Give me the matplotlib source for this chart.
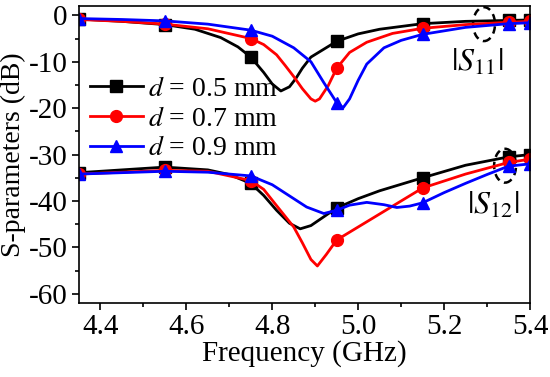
import numpy as np
import matplotlib
matplotlib.use("Agg")
import matplotlib.pyplot as plt
from matplotlib.patches import Ellipse

plt.rcParams["font.family"] = ["Liberation Serif", "DejaVu Serif"]
plt.rcParams["mathtext.fontset"] = "stix"
plt.rcParams["axes.unicode_minus"] = False
plt.rcParams["font.size"] = 20

# |S11| curves
f_s11_a = [4.35, 4.45, 4.55, 4.62, 4.68, 4.72, 4.75, 4.78, 4.80, 4.82, 4.84, 4.855, 4.87, 4.89,
           4.95, 5.00, 5.05, 5.15, 5.25, 5.35, 5.40]
s11_a = [-0.8, -1.3, -2.0, -3.0, -4.8, -6.8, -9.0, -12.3, -14.8, -16.3, -15.4, -13.6, -11.4, -9.0,
         -5.6, -4.0, -3.0, -1.8, -1.3, -1.1, -1.0]

f_s11_b = [4.35, 4.45, 4.55, 4.65, 4.75, 4.78, 4.81, 4.83, 4.85, 4.87, 4.89, 4.90, 4.91, 4.93,
           4.95, 4.98, 5.02, 5.08, 5.15, 5.25, 5.35, 5.40]
s11_b = [-0.9, -1.3, -1.9, -2.9, -5.0, -6.3, -8.5, -10.8, -13.2, -15.8, -18.0, -18.5, -18.0, -15.2,
         -11.4, -8.0, -5.8, -3.9, -2.8, -2.0, -1.5, -1.3]

f_s11_c = [4.35, 4.45, 4.55, 4.65, 4.75, 4.80, 4.85, 4.89, 4.92, 4.95, 4.965, 4.98, 5.00, 5.02,
           5.06, 5.10, 5.15, 5.25, 5.35, 5.40]
s11_c = [-0.7, -0.9, -1.2, -1.9, -3.2, -4.5, -7.0, -10.0, -14.5, -18.8, -19.9, -18.0, -14.0, -10.5,
         -7.0, -5.4, -4.1, -2.6, -1.8, -1.6]

# |S12| curves
f_s12_a = [4.35, 4.45, 4.55, 4.65, 4.70, 4.75, 4.78, 4.81, 4.84, 4.865, 4.89, 4.92, 4.95, 5.00,
           5.05, 5.15, 5.25, 5.35, 5.40]
s12_a = [-33.9, -33.3, -32.7, -33.3, -34.3, -36.2, -38.8, -42.0, -44.8, -46.0, -45.3, -43.4, -41.5, -39.5,
         -37.8, -35.0, -32.3, -30.5, -30.0]

f_s12_b = [4.35, 4.45, 4.55, 4.65, 4.75, 4.78, 4.81, 4.85, 4.87, 4.89, 4.905, 4.926, 4.95, 5.00,
           5.05, 5.10, 5.15, 5.25, 5.35, 5.40]
s12_b = [-34.2, -33.8, -33.4, -33.6, -35.6, -37.5, -41.0, -45.6, -49.0, -52.6, -54.0, -51.5, -48.4, -45.6,
         -42.8, -40.0, -37.2, -34.2, -31.7, -31.0]

f_s12_c = [4.35, 4.45, 4.55, 4.65, 4.75, 4.80, 4.85, 4.88, 4.92, 4.95, 4.98, 5.02, 5.06, 5.09,
           5.12, 5.15, 5.20, 5.25, 5.30, 5.35, 5.40]
s12_c = [-34.2, -33.9, -33.6, -33.8, -34.6, -36.5, -39.5, -41.3, -42.7, -42.0, -40.9, -40.3, -40.8, -41.4,
         -41.1, -40.4, -38.2, -36.2, -34.3, -32.5, -32.0]

marker_freqs = [4.35, 4.55, 4.75, 4.95, 5.15, 5.35, 5.40]
labels = [r"$d$ = 0.5 mm", r"$d$ = 0.7 mm", r"$d$ = 0.9 mm"]
colors = ["black", "red", "blue"]
markers = ["s", "o", "^"]

fig = plt.figure(figsize=(5.5, 3.77), dpi=100)
ax = fig.add_axes([0.1436, 0.196, 0.82, 0.788])

s11 = [(f_s11_a, s11_a), (f_s11_b, s11_b), (f_s11_c, s11_c)]
s12 = [(f_s12_a, s12_a), (f_s12_b, s12_b), (f_s12_c, s12_c)]

for i in range(3):
    for j, (f, s) in enumerate([s11[i], s12[i]]):
        idx = [k for k, v in enumerate(f) if np.any(np.isclose(v, marker_freqs))]
        ax.plot(f, s, color=colors[i], marker=markers[i], markevery=idx, lw=2,
                ms=8.5, label=labels[i] if j == 0 else None)

ax.add_patch(Ellipse((5.293, -1.9), 0.051, 7.3, fill=False, ls=(0, (3, 2)), lw=1.8, color="black"))
ax.add_patch(Ellipse((5.342, -32.4), 0.051, 7.3, fill=False, ls=(0, (3, 2)), lw=1.8, color="black"))
ax.text(5.277, -10.2, r"$|S_{11}|$", ha="center", va="center", fontsize=23)
ax.text(5.314, -41.0, r"$|S_{12}|$", ha="center", va="center", fontsize=23)

ax.set_xlim(4.35, 5.4)
ax.set_ylim(-62, 2)
ax.set_xticks([4.4, 4.6, 4.8, 5.0, 5.2, 5.4])
ax.set_xticks(np.arange(4.4, 5.41, 0.1), minor=True)
ax.set_yticks([-60, -50, -40, -30, -20, -10, 0])
ax.set_yticks(np.arange(-60, 1, 5), minor=True)
ax.set_xticklabels(["4.4", "4.6", "4.8", "5.0", "5.2", "5.4"])
ax.tick_params(which="major", direction="out", length=5, width=1.2, labelsize=21, pad=3)
ax.tick_params(which="minor", direction="out", length=3, width=1.2)
for sp in ax.spines.values():
    sp.set_linewidth(1.2)

ax.set_xlabel("Frequency (GHz)", fontsize=21, labelpad=0)
ax.set_ylabel("S-parameters (dB)", fontsize=20, labelpad=2)

ax.legend(loc="upper left", bbox_to_anchor=(0.0, 0.80), frameon=False, fontsize=20,
          handlelength=1.9, handletextpad=0.2, labelspacing=0.15, borderpad=0.2, borderaxespad=0.2)

fig.savefig("out.png", dpi=100)
